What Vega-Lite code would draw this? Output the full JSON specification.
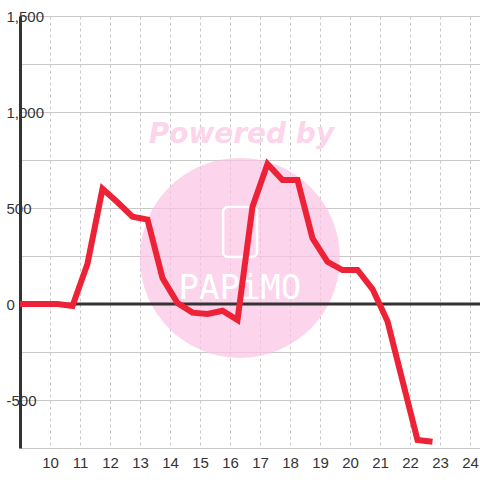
{
  "$schema": "https://vega.github.io/schema/vega-lite/v6.json",
  "width": 460,
  "height": 432,
  "autosize": {"type": "none"},
  "padding": {"left": 20, "top": 16, "right": 0, "bottom": 32},
  "config": {"view": {"stroke": null}, "font": "Liberation Sans"},
  "datasets": {
    "series": [
      {"t": 8.75, "v": 0}, {"t": 9.25, "v": 0}, {"t": 9.75, "v": 0}, {"t": 10.25, "v": 0},
      {"t": 10.75, "v": -10}, {"t": 11.25, "v": 210}, {"t": 11.75, "v": 600}, {"t": 12.25, "v": 530},
      {"t": 12.75, "v": 455}, {"t": 13.25, "v": 440}, {"t": 13.75, "v": 135}, {"t": 14.25, "v": 5},
      {"t": 14.75, "v": -45}, {"t": 15.25, "v": -52}, {"t": 15.75, "v": -35}, {"t": 16.25, "v": -83},
      {"t": 16.75, "v": 507}, {"t": 17.25, "v": 730}, {"t": 17.75, "v": 646}, {"t": 18.25, "v": 646},
      {"t": 18.75, "v": 342}, {"t": 19.25, "v": 220}, {"t": 19.75, "v": 177}, {"t": 20.25, "v": 177},
      {"t": 20.75, "v": 78}, {"t": 21.25, "v": -90}, {"t": 21.75, "v": -400}, {"t": 22.25, "v": -708},
      {"t": 22.75, "v": -717}
    ]
  },
  "encoding": {
    "x": {
      "field": "t", "type": "quantitative",
      "scale": {"domain": [9, 24.3333], "nice": false, "zero": false},
      "axis": {
        "values": [10, 11, 12, 13, 14, 15, 16, 17, 18, 19, 20, 21, 22, 23, 24],
        "title": null, "grid": true, "gridDash": [3, 3], "gridColor": "#c8c8c8",
        "domain": false, "ticks": false, "labelFontSize": 15, "labelColor": "#333",
        "labelPadding": 7, "labelFlush": false, "labelOverlap": false
      }
    },
    "y": {
      "field": "v", "type": "quantitative",
      "scale": {"domain": [-750, 1500], "nice": false},
      "axis": {
        "values": [-750, -500, -250, 0, 250, 500, 750, 1000, 1250, 1500],
        "title": null, "grid": true, "gridColor": "#c8c8c8",
        "domainColor": "#333", "domainWidth": 3, "ticks": false,
        "labelAlign": "left", "labelPadding": 14, "labelFlush": false, "labelOverlap": false,
        "labelFontSize": 15, "labelColor": "#333",
        "labelExpr": "datum.value % 500 == 0 ? replace(format(datum.value, ','), '\u2212', '-') : ''"
      }
    }
  },
  "layer": [
    {
      "data": {"values": [{"t": 16.33, "v": 240}]},
      "mark": {"type": "point", "shape": "circle", "filled": true, "size": 40000, "color": "#FBC2E2", "opacity": 0.7}
    },
    {
      "data": {"values": [{"t": 16.38, "v": 880, "label": "Powered by"}]},
      "mark": {"type": "text", "font": "DejaVu Sans", "fontSize": 28, "fontWeight": "bold", "fontStyle": "italic", "color": "#FCD5EA", "baseline": "middle", "align": "center"},
      "encoding": {"text": {"field": "label"}}
    },
    {
      "data": {"values": [{"t": 15.77, "t2": 16.9, "v": 505, "v2": 245}]},
      "mark": {"type": "rect", "filled": false, "stroke": "white", "strokeWidth": 2.5, "cornerRadius": 5},
      "encoding": {"x2": {"field": "t2"}, "y2": {"field": "v2"}}
    },
    {
      "data": {"values": [{"t": 16.33, "v": 78, "label": "PAPiMO"}]},
      "mark": {"type": "text", "font": "DejaVu Sans Mono", "fontSize": 34, "color": "white", "baseline": "middle", "align": "center", "letterSpacing": 4},
      "encoding": {"text": {"field": "label"}}
    },
    {
      "data": {"values": [{"t": 9, "t2": 24.3333, "v": 0}]},
      "mark": {"type": "rule", "color": "#333", "strokeWidth": 3},
      "encoding": {"x2": {"field": "t2"}}
    },
    {
      "data": {"name": "series"},
      "mark": {"type": "line", "color": "#EE2236", "strokeWidth": 6, "clip": true}
    }
  ]
}
